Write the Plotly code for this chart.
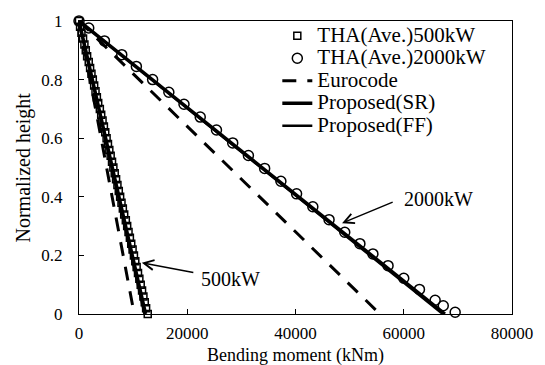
import plotly.graph_objects as go

# ---- data ----
heights_500 = [1.00, 0.98, 0.96, 0.94, 0.92, 0.90, 0.88, 0.86, 0.84, 0.82,
               0.80, 0.78, 0.76, 0.74, 0.72, 0.70, 0.68, 0.66, 0.64, 0.62,
               0.60, 0.58, 0.56, 0.54, 0.52, 0.50, 0.48, 0.46, 0.44, 0.42,
               0.40, 0.38, 0.36, 0.34, 0.32, 0.30, 0.28, 0.26, 0.24, 0.22,
               0.20, 0.18, 0.16, 0.14, 0.12, 0.10, 0.08, 0.06, 0.04, 0.02, 0.00]
tha_500 = [0, 200, 450, 750, 1000, 1250, 1500, 1800, 2050, 2300,
           2550, 2800, 3050, 3300, 3550, 3850, 4100, 4350, 4600, 4850,
           5100, 5350, 5600, 5850, 6100, 6350, 6600, 6850, 7100, 7350,
           7600, 7850, 8100, 8350, 8650, 8900, 9150, 9400, 9650, 9900,
           10150, 10400, 10650, 10900, 11150, 11400, 11650, 11900, 12150, 12400, 12700]

heights_2000 = [1.0, 0.976, 0.932, 0.885, 0.845, 0.80, 0.757, 0.716, 0.672, 0.628,
                0.584, 0.541, 0.497, 0.453, 0.41, 0.366, 0.322, 0.279, 0.24, 0.205,
                0.165, 0.122, 0.084, 0.047, 0.028, 0.006]
tha_2000 = [0, 1800, 4700, 7900, 10600, 13600, 16600, 19400, 22400, 25400,
            28400, 31300, 34300, 37300, 40200, 43200, 46200, 49100, 51900, 54300,
            57100, 60000, 62900, 65800, 67300, 69500]

line_y = [1.0, 0.0]
euro_500 = [0, 10200]
euro_2000 = [0, 55600]
sr_500 = [0, 12300]
sr_2000 = [0, 67600]
ff_500 = [0, 12100]
ff_2000 = [0, 67200]

x_ticks = [0, 20000, 40000, 60000, 80000]
y_ticks = [0, 0.2, 0.4, 0.6, 0.8, 1]
y_tick_text = ["0", "0.2", "0.4", "0.6", "0.8", "1"]

FONT = "Liberation Serif"


def join(a, b):
    return a + [None] + b


def big(t):
    return "<span style='font-size:21px'>" + t + "</span>"


fig = go.Figure()
fig.add_trace(go.Scatter(x=tha_500, y=heights_500, mode="markers", name=big("THA(Ave.)500kW"),
                         marker=dict(symbol="square-open", size=7, color="black",
                                     line=dict(width=1.5)), cliponaxis=False))
fig.add_trace(go.Scatter(x=tha_2000, y=heights_2000, mode="markers", name=big("THA(Ave.)2000kW"),
                         marker=dict(symbol="circle-open", size=10, color="black",
                                     line=dict(width=1.5)), cliponaxis=False))
fig.add_trace(go.Scatter(x=join(euro_500, euro_2000), y=join(line_y, line_y), mode="lines",
                         name=big("Eurocode"), line=dict(color="black", width=3, dash="14px,11px")))
fig.add_trace(go.Scatter(x=join(sr_500, sr_2000), y=join(line_y, line_y), mode="lines",
                         name=big("Proposed(SR)"), line=dict(color="black", width=3.5)))
fig.add_trace(go.Scatter(x=join(ff_500, ff_2000), y=join(line_y, line_y), mode="lines",
                         name=big("Proposed(FF)"), line=dict(color="black", width=2.5)))

# labels and arrows
label_text = ["2000kW", "500kW"]
label_pos = [(66400, 0.391), (28000, 0.121)]
arrow_tail = [(58230, 0.384), (21400, 0.141)]
arrow_head = [(48600, 0.31), (11600, 0.175)]

annotations = []
for t, (lx, ly), (tx, ty), (hx, hy) in zip(label_text, label_pos, arrow_tail, arrow_head):
    annotations.append(dict(x=lx, y=ly, xref="x", yref="y", text=t, showarrow=False,
                            font=dict(family=FONT, size=20, color="black")))
    annotations.append(dict(x=hx, y=hy, ax=tx, ay=ty, xref="x", yref="y", axref="x", ayref="y",
                            text="", showarrow=True, arrowhead=5, arrowsize=1.3,
                            arrowwidth=1.5, arrowcolor="black"))

annotations.append(dict(x=0.5, y=0, xref="paper", yref="paper", yshift=-41,
                        text="Bending moment (kNm)", showarrow=False, yanchor="middle",
                        font=dict(family=FONT, size=18, color="black")))
annotations.append(dict(x=0, y=0.5, xref="paper", yref="paper", xshift=-56,
                        text="Normalized height", showarrow=False, textangle=-90,
                        xanchor="center", font=dict(family=FONT, size=20, color="black")))

fig.update_layout(
    width=545, height=365,
    margin=dict(l=79, r=25, t=17, b=51),
    paper_bgcolor="white", plot_bgcolor="white",
    font=dict(family=FONT, size=17, color="black"),
    showlegend=True,
    legend=dict(x=0.458, y=1.005, xanchor="left", yanchor="top", bgcolor="rgba(0,0,0,0)",
                font=dict(family=FONT, size=15, color="black"), tracegroupgap=0,
                itemwidth=30),
    annotations=annotations,
)
fig.update_xaxes(range=[0, 80000], tickvals=x_ticks, ticktext=[str(v) for v in x_ticks],
                 showgrid=False, zeroline=False, showline=True, linecolor="black",
                 linewidth=1, mirror=True, ticks="inside", ticklen=5, tickcolor="black",
                 ticklabelstandoff=4)
fig.update_yaxes(range=[0, 1], tickvals=y_ticks, ticktext=y_tick_text,
                 showgrid=False, zeroline=False, showline=True, linecolor="black",
                 linewidth=1, mirror=True, ticks="inside", ticklen=5, tickcolor="black",
                 ticklabelstandoff=12)

fig.write_html("out.html")
